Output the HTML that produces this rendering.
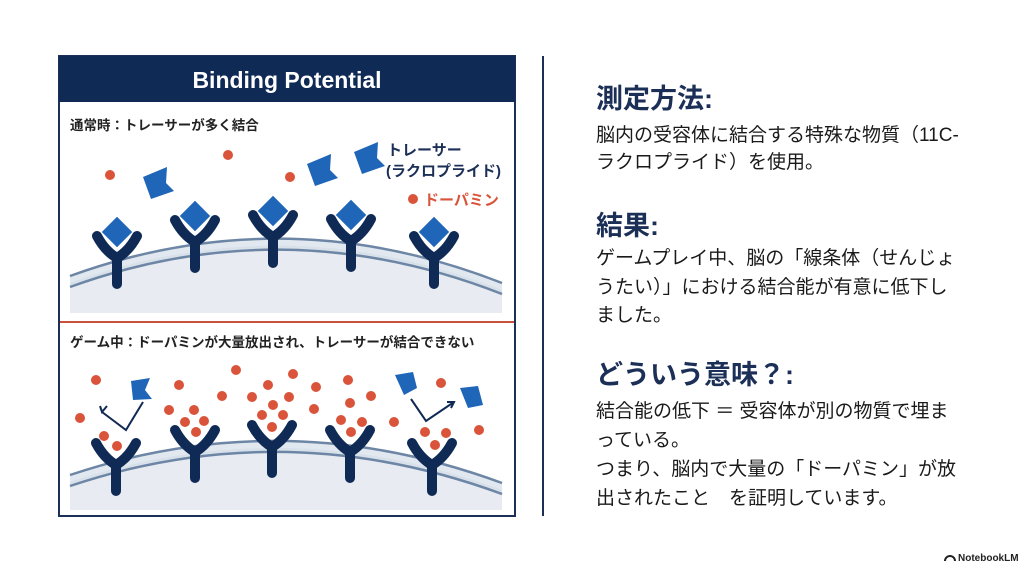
<!DOCTYPE html>
<html><head><meta charset="utf-8"><style>
html,body{margin:0;padding:0;background:#fff;}
svg{display:block;}
text{font-family:"Liberation Sans","Noto Sans CJK JP",sans-serif;}
</style></head><body>
<svg width="1024" height="572" viewBox="0 0 1024 572" xmlns="http://www.w3.org/2000/svg">
<defs>
<g id="y">
<path d="M-20,0 Q-12,15 0,22 Q12,15 20,0 M0,22 V48" fill="none" stroke="#0f2a55" stroke-width="10" stroke-linecap="round" stroke-linejoin="round"/>
</g>
<g id="yd">
<rect x="-12" y="-12" width="24" height="24" transform="translate(0,-4) rotate(45)" fill="#1f66b8" stroke="#fff" stroke-width="2.5"/>
<path d="M-20,0 Q-12,15 0,22 Q12,15 20,0 M0,22 V48" fill="none" stroke="#0f2a55" stroke-width="10" stroke-linecap="round" stroke-linejoin="round"/>
</g>
<polygon id="fl" points="-14,-6 10,-16 9,0 17,8 -6,16" fill="#1f66b8"/>
</defs>
<rect x="59" y="56" width="456" height="460" fill="#fff" stroke="#1b2f57" stroke-width="2"/>
<rect x="59" y="56" width="456" height="46" fill="#0f2a55"/>
<text x="287" y="88" font-size="23" font-weight="bold" fill="#fff" text-anchor="middle">Binding Potential</text>
<line x1="60" y1="322" x2="514" y2="322" stroke="#c9503a" stroke-width="2"/>
<text x="70" y="130" font-size="13.5" font-weight="bold" fill="#222">通常時：トレーサーが多く結合</text>
<text x="70" y="347" font-size="13.5" font-weight="bold" fill="#222">ゲーム中：ドーパミンが大量放出され、トレーサーが結合できない</text>

<path d="M70,283 Q285,205 502,290 L502,313 L70,313 Z" fill="#e8ecf2"/>
<path d="M70,276 Q285,198 502,283 L502,294 Q285,209 70,287Z" fill="#cdd8e5" opacity="0.6"/>
<path d="M70,276 Q285,198 502,283" fill="none" stroke="#6d86a5" stroke-width="2.5"/>
<path d="M70,287 Q285,209 502,294" fill="none" stroke="#6d86a5" stroke-width="2.5"/>
<use href="#yd" x="117" y="236"/>
<use href="#yd" x="195" y="220"/>
<use href="#yd" x="273" y="215"/>
<use href="#yd" x="351" y="219"/>
<use href="#yd" x="434" y="236"/>
<use href="#fl" x="157" y="183"/>
<use href="#fl" x="321" y="170"/>
<use href="#fl" x="368" y="158"/>
<circle cx="110" cy="175" r="5" fill="#d9543a"/>
<circle cx="228" cy="155" r="5" fill="#d9543a"/>
<circle cx="290" cy="177" r="5" fill="#d9543a"/>
<circle cx="413" cy="199" r="5" fill="#d9543a"/>
<text x="387" y="155" font-size="15" font-weight="bold" fill="#1b2f57">トレーサー</text>
<text x="386" y="176" font-size="15" font-weight="bold" fill="#1b2f57">(ラクロプライド)</text>
<text x="424" y="205" font-size="15" font-weight="bold" fill="#d9543a">ドーパミン</text>

<path d="M70,482 Q285,410 502,490 L502,510 L70,510 Z" fill="#e8ecf2"/>
<path d="M70,475 Q285,403 502,483 L502,494 Q285,414 70,486Z" fill="#cdd8e5" opacity="0.6"/>
<path d="M70,475 Q285,403 502,483" fill="none" stroke="#6d86a5" stroke-width="2.5"/>
<path d="M70,486 Q285,414 502,494" fill="none" stroke="#6d86a5" stroke-width="2.5"/>
<use href="#y" x="116" y="443"/>
<use href="#y" x="195" y="430"/>
<use href="#y" x="272" y="425"/>
<use href="#y" x="350" y="430"/>
<use href="#y" x="432" y="443"/>
<g fill="#d9543a">
<circle cx="96" cy="380" r="5"/><circle cx="80" cy="418" r="5"/><circle cx="104" cy="436" r="5"/><circle cx="117" cy="446" r="5"/>
<circle cx="179" cy="385" r="5"/><circle cx="169" cy="410" r="5"/><circle cx="194" cy="410" r="5"/><circle cx="185" cy="422" r="5"/><circle cx="204" cy="421" r="5"/><circle cx="196" cy="432" r="5"/>
<circle cx="222" cy="396" r="5"/><circle cx="236" cy="370" r="5"/><circle cx="252" cy="397" r="5"/><circle cx="268" cy="385" r="5"/><circle cx="273" cy="405" r="5"/><circle cx="289" cy="397" r="5"/><circle cx="262" cy="415" r="5"/><circle cx="283" cy="415" r="5"/><circle cx="272" cy="427" r="5"/><circle cx="293" cy="374" r="5"/>
<circle cx="316" cy="387" r="5"/><circle cx="314" cy="409" r="5"/><circle cx="348" cy="380" r="5"/><circle cx="350" cy="403" r="5"/><circle cx="341" cy="420" r="5"/><circle cx="362" cy="422" r="5"/><circle cx="371" cy="396" r="5"/><circle cx="351" cy="432" r="5"/>
<circle cx="394" cy="422" r="5"/><circle cx="441" cy="383" r="5"/><circle cx="479" cy="430" r="5"/><circle cx="425" cy="432" r="5"/><circle cx="435" cy="445" r="5"/><circle cx="446" cy="433" r="5"/>
</g>
<polygon points="131,381 150,378 145,390 152,399 133,400" fill="#1f66b8"/>
<polygon points="395,375 413,372 417,388 404,395" fill="#1f66b8"/>
<polygon points="460,388 478,386 483,405 468,408" fill="#1f66b8"/>
<g fill="none" stroke="#0f2a55" stroke-width="2">
<path d="M143,402 L126,430 L102,412"/><path d="M100,406 L102,412 L107,406"/>
<path d="M411,399 L426,421 L454,402"/><path d="M447,402 L454,402 L451,408"/>
</g>

<line x1="543" y1="56" x2="543" y2="516" stroke="#1b2f57" stroke-width="2"/>

<g fill="#1b2f57" font-weight="bold" font-size="27">
<text x="596" y="108">測定方法:</text>
<text x="596" y="235">結果:</text>
<text x="596" y="384">どういう意味？:</text>
</g>
<g fill="#1a1a1a" font-size="19">
<text x="596" y="141">脳内の受容体に結合する特殊な物質（11C-</text>
<text x="596" y="168">ラクロプライド）を使用。</text>
<text x="596" y="264">ゲームプレイ中、脳の「線条体（せんじょ</text>
<text x="596" y="293">うたい）」における結合能が有意に低下し</text>
<text x="596" y="321">ました。</text>
<text x="596" y="417">結合能の低下 ＝ 受容体が別の物質で埋ま</text>
<text x="596" y="446">っている。</text>
<text x="596" y="475">つまり、脳内で大量の「ドーパミン」が放</text>
<text x="596" y="504">出されたこと　を証明しています。</text>
</g>
<text x="958" y="561" font-size="10" font-weight="bold" fill="#222">NotebookLM</text>
<path d="M945,561 a5,5 0 0 1 10,0" fill="none" stroke="#222" stroke-width="2"/>
</svg>
</body></html>
